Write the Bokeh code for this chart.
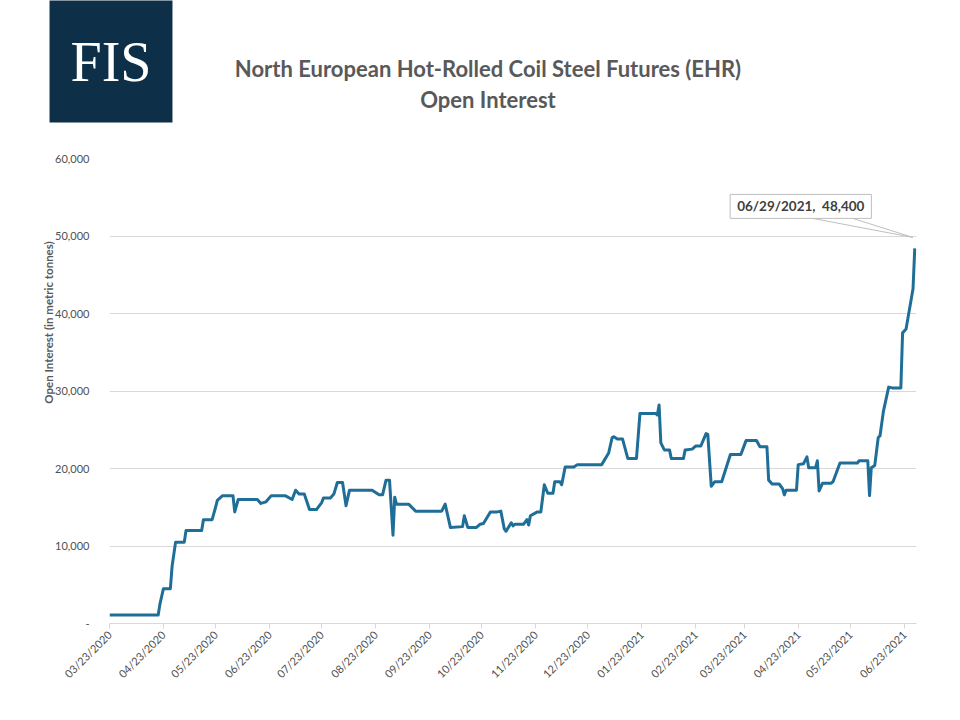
import math
import pandas as pd
from bokeh.plotting import figure
from bokeh.models import Range1d, FixedTicker, DatetimeTickFormatter, Label, ColumnDataSource
from bokeh.embed import file_html
from bokeh.resources import INLINE

# ---- data: EHR open interest (metric tonnes) ----
dates = [
    "2020-03-23", "2020-04-20", "2020-04-21", "2020-04-23", "2020-04-27", "2020-04-28", "2020-04-30",
    "2020-05-05", "2020-05-06", "2020-05-15", "2020-05-16", "2020-05-21", "2020-05-23", "2020-05-24", "2020-05-27",
    "2020-06-02", "2020-06-03", "2020-06-05", "2020-06-16", "2020-06-18", "2020-06-21", "2020-06-24",
    "2020-07-02", "2020-07-06", "2020-07-08", "2020-07-10", "2020-07-13", "2020-07-16", "2020-07-20",
    "2020-07-23", "2020-07-24", "2020-07-28", "2020-07-30",
    "2020-08-01", "2020-08-04", "2020-08-06", "2020-08-08", "2020-08-21", "2020-08-25", "2020-08-27",
    "2020-08-29", "2020-08-31",
    "2020-09-02", "2020-09-03", "2020-09-04", "2020-09-11", "2020-09-15", "2020-09-30",
    "2020-10-02", "2020-10-05", "2020-10-12", "2020-10-13", "2020-10-15", "2020-10-20", "2020-10-22",
    "2020-10-24", "2020-10-28",
    "2020-11-01", "2020-11-03", "2020-11-05", "2020-11-06", "2020-11-09", "2020-11-10", "2020-11-11",
    "2020-11-16", "2020-11-18", "2020-11-19", "2020-11-20", "2020-11-24", "2020-11-26", "2020-11-28",
    "2020-11-30",
    "2020-12-03", "2020-12-04", "2020-12-07", "2020-12-08", "2020-12-10", "2020-12-15", "2020-12-17",
    "2020-12-31",
    "2021-01-04", "2021-01-06", "2021-01-07", "2021-01-09", "2021-01-12", "2021-01-15", "2021-01-20",
    "2021-01-22", "2021-01-31",
    "2021-02-01", "2021-02-02", "2021-02-03", "2021-02-05", "2021-02-08", "2021-02-09", "2021-02-16",
    "2021-02-17", "2021-02-21", "2021-02-23", "2021-02-26",
    "2021-03-01", "2021-03-02", "2021-03-04", "2021-03-06", "2021-03-10", "2021-03-15", "2021-03-21",
    "2021-03-24", "2021-03-30",
    "2021-04-01", "2021-04-05", "2021-04-06", "2021-04-08", "2021-04-12", "2021-04-14", "2021-04-15",
    "2021-04-16", "2021-04-22", "2021-04-23", "2021-04-26", "2021-04-28", "2021-04-29",
    "2021-05-03", "2021-05-04", "2021-05-05", "2021-05-07", "2021-05-12", "2021-05-13", "2021-05-17",
    "2021-05-27", "2021-05-28",
    "2021-06-02", "2021-06-03", "2021-06-04", "2021-06-06", "2021-06-08", "2021-06-09", "2021-06-11",
    "2021-06-14", "2021-06-16", "2021-06-21", "2021-06-22", "2021-06-24", "2021-06-28", "2021-06-29",
]
open_interest = [
    1100, 1100, 2500, 4500, 4500, 7400, 10500,
    10500, 12000, 12000, 13400, 13400, 15000, 15900, 16500,
    16500, 14400, 16000, 16000, 15500, 15700, 16500,
    16500, 16000, 17200, 16700, 16700, 14700, 14700,
    15600, 16200, 16200, 16700,
    18200, 18200, 15200, 17200, 17200, 16600, 16600,
    18500, 18500,
    11400, 16300, 15400, 15400, 14500, 14500,
    15400, 12400, 12500, 13900, 12400, 12400, 12800,
    12900, 14400,
    14400, 14500, 12200, 11900, 13000, 12600, 12800,
    12800, 13400, 12700, 13900, 14400, 14400, 17900,
    16800,
    16800, 18300, 18300, 17900, 20200, 20200, 20500,
    20500,
    22000, 24000, 24100, 23800, 23800, 21300, 21300,
    27100, 27100,
    26900, 28200, 23300, 22400, 22400, 21300, 21300,
    22400, 22500, 22900, 22900,
    24500, 24400, 17700, 18300, 18300, 21800, 21800,
    23600, 23600,
    22800, 22800, 18500, 18000, 18000, 17400, 16600,
    17200, 17200, 20500, 20600, 21500, 20100,
    20100, 21000, 17100, 18100, 18100, 18300, 20700,
    20700, 21000,
    21000, 16500, 20100, 20400, 24000, 24200, 27400,
    30500, 30400, 30400, 37500, 38000, 43200, 48400,
]

x_start, x_end = "2020-03-23", "2021-06-30"
x_tick_dates = [
    "2020-03-23", "2020-04-23", "2020-05-23", "2020-06-23", "2020-07-23", "2020-08-23",
    "2020-09-23", "2020-10-23", "2020-11-23", "2020-12-23", "2021-01-23", "2021-02-23",
    "2021-03-23", "2021-04-23", "2021-05-23", "2021-06-23",
]
y_ticks = [0, 10000, 20000, 30000, 40000, 50000, 60000]
y_tick_labels = ["-", "10,000", "20,000", "30,000", "40,000", "50,000", "60,000"]

title_lines = ["North European Hot-Rolled Coil Steel Futures (EHR)", "Open Interest"]
y_label = "Open Interest (in metric tonnes)"
logo_text = "FIS"

# ---- styling ----
LINE_COLOR = "#1f6e98"
GRID_COLOR = "#d9d9d9"
TEXT_COLOR = "#595959"
NAVY = "#0d2f47"
FONT = "Lato"

W, H = 960, 720
B_LEFT, B_RIGHT, B_TOP, B_BOTTOM = 109, 44, 158, 97
frame_w = W - B_LEFT - B_RIGHT
frame_h = H - B_TOP - B_BOTTOM
FRAME_TOP, FRAME_BOTTOM, FRAME_RIGHT = B_TOP, H - B_BOTTOM, W - B_RIGHT

LOGO_H = 122          # navy block height (text height + vertical padding)
TITLE_LINE_H = 26.4   # height of one 22px title line
XAXIS_H = 60          # height taken by the rotated date labels

src = ColumnDataSource(dict(date=pd.to_datetime(dates), oi=open_interest))

p = figure(width=W, height=H, title=None, x_axis_type="datetime",
           x_range=Range1d(pd.Timestamp(x_start), pd.Timestamp(x_end)),
           y_range=Range1d(0, 60000),
           min_border_left=B_LEFT, min_border_right=B_RIGHT,
           min_border_top=B_TOP, min_border_bottom=B_BOTTOM,
           output_backend="svg", toolbar_location=None)
p.outline_line_color = None
p.xgrid.visible = False
p.ygrid.grid_line_color = GRID_COLOR
p.ygrid.grid_line_width = 1

p.line(x="date", y="oi", source=src, line_color=LINE_COLOR, line_width=3, line_join="round")

# x axis: monthly ticks on the 23rd
tick_ms = [int(pd.Timestamp(d).value // 10**6) for d in x_tick_dates]
p.xaxis.ticker = FixedTicker(ticks=tick_ms)
fmt = "%m/%d/%Y"
p.xaxis.formatter = DatetimeTickFormatter(
    microseconds=fmt, milliseconds=fmt, seconds=fmt, minsec=fmt, minutes=fmt,
    hourmin=fmt, hours=fmt, days=fmt, months=fmt, years=fmt)
p.xaxis.major_label_orientation = math.pi / 4
p.xaxis.axis_line_color = GRID_COLOR
p.xaxis.major_tick_line_color = GRID_COLOR
p.xaxis.major_tick_out = 5
p.xaxis.major_tick_in = 0
p.xaxis.minor_tick_line_color = None
p.xaxis.major_label_standoff = 4

# y axis: no line, no ticks, dash for zero
p.yaxis.ticker = FixedTicker(ticks=y_ticks)
p.yaxis.major_label_overrides = {t: lab for t, lab in zip(y_ticks, y_tick_labels)}
p.yaxis.axis_line_color = None
p.yaxis.major_tick_line_color = None
p.yaxis.minor_tick_line_color = None
p.yaxis.major_label_standoff = 14

for ax in (p.xaxis, p.yaxis):
    ax.major_label_text_font = FONT
    ax.major_label_text_font_size = "11px"
    ax.major_label_text_color = "#505050"

# Side-panel labels are not clipped to the frame.  Screen x is measured from the
# panel's left edge, screen y upward from the panel's bottom edge.

# above, innermost: logo block (panel bottom = frame top)
p.add_layout(Label(x=110.5 - B_LEFT, y=FRAME_TOP - 61, x_units="screen", y_units="screen",
                   text=logo_text, text_font="Liberation Serif", text_font_size="56px",
                   text_color="white", text_align="center", text_baseline="middle",
                   background_fill_color=NAVY, padding=(21, 30)), "above")

# above, next: first title line (panel bottom = top of logo panel)
p.add_layout(Label(x=487.5 - B_LEFT, y=(FRAME_TOP - LOGO_H) - 68, x_units="screen", y_units="screen",
                   text=title_lines[0], text_font=FONT, text_font_size="22px",
                   text_font_style="bold", text_color=TEXT_COLOR,
                   text_align="center", text_baseline="middle"), "above")

# below, outside the date axis: second title line
below_bottom = FRAME_BOTTOM + XAXIS_H + TITLE_LINE_H
p.add_layout(Label(x=487.5 - B_LEFT, y=below_bottom - 94, x_units="screen", y_units="screen",
                   text=title_lines[1], text_font=FONT, text_font_size="22px",
                   text_font_style="bold", text_color=TEXT_COLOR,
                   text_align="center", text_baseline="middle"), "below")

# right panel (starts at the frame's right edge): y-axis title
p.add_layout(Label(x=48 - FRAME_RIGHT, y=FRAME_BOTTOM - 322, x_units="screen", y_units="screen",
                   angle=math.pi / 2, text=y_label, text_font=FONT, text_font_size="11.5px",
                   text_font_style="bold", text_color=TEXT_COLOR,
                   text_align="center", text_baseline="middle"), "right")

# callout for the latest value
last_date = pd.Timestamp(dates[-1])
last_val = open_interest[-1]
ms_per_px = (pd.Timestamp(x_end) - pd.Timestamp(x_start)).total_seconds() * 1000 / frame_w
val_per_px = 60000 / frame_h


def shifted(dx_px, dy_px):
    return (last_date + pd.Timedelta(milliseconds=dx_px * ms_per_px), last_val + dy_px * val_per_px)


tip = shifted(-2, 11)
for dx in (-102, -62):
    start = shifted(dx, 30)
    p.segment(x0=[start[0]], y0=[start[1]], x1=[tip[0]], y1=[tip[1]],
              line_color="#bfbfbf", line_width=1)

p.add_layout(Label(x=last_date, y=last_val, x_offset=-114, y_offset=42,
                   text=f"{last_date:%m/%d/%Y},\u00a0 {last_val:,}",
                   text_font=FONT, text_font_size="13.5px", text_font_style="bold",
                   text_color="#404040", text_align="center", text_baseline="middle",
                   background_fill_color="white", border_line_color="#bfbfbf",
                   border_line_width=1, padding=(7, 4)))

open("out.html", "w").write(file_html(p, INLINE))
